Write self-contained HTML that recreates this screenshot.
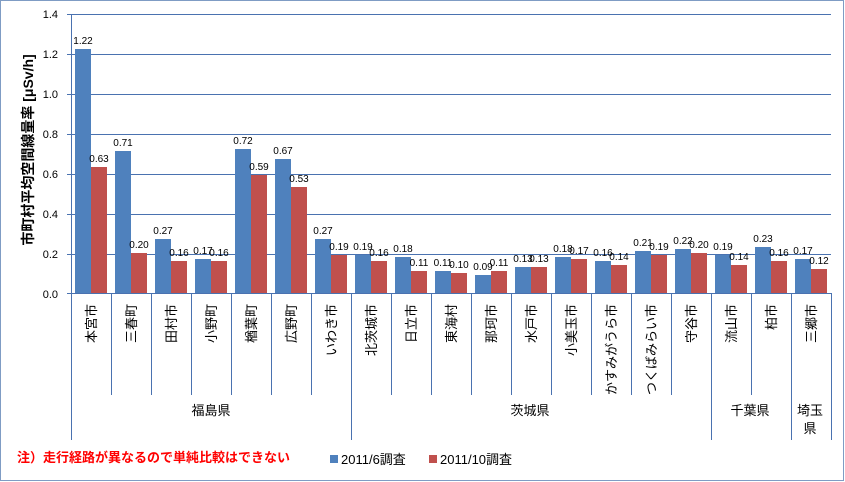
<!DOCTYPE html>
<html><head><meta charset="utf-8"><style>
body{margin:0;background:#fff}
svg{display:block;font-family:"Liberation Sans","Noto Sans CJK JP",sans-serif}
</style></head><body>
<svg width="845" height="482" viewBox="0 0 845 482" xmlns="http://www.w3.org/2000/svg">
<rect x="0.5" y="0.5" width="843" height="480" fill="#fff" stroke="#7f9cc4" stroke-width="1"/>
<g stroke="#4a72b0" stroke-width="1">
<line x1="67" y1="14.5" x2="831" y2="14.5"/>
<line x1="67" y1="54.5" x2="831" y2="54.5"/>
<line x1="67" y1="94.5" x2="831" y2="94.5"/>
<line x1="67" y1="134.5" x2="831" y2="134.5"/>
<line x1="67" y1="174.5" x2="831" y2="174.5"/>
<line x1="67" y1="214.5" x2="831" y2="214.5"/>
<line x1="67" y1="254.5" x2="831" y2="254.5"/>
</g>
<g font-size="11" fill="#000" text-anchor="end">
<text x="58" y="18">1.4</text><text x="58" y="58">1.2</text><text x="58" y="98">1.0</text>
<text x="58" y="138">0.8</text><text x="58" y="178">0.6</text><text x="58" y="218">0.4</text>
<text x="58" y="258">0.2</text><text x="58" y="298">0.0</text>
</g>
<text transform="translate(33,150) rotate(-90)" font-size="14" font-weight="bold" text-anchor="middle">市町村平均空間線量率 [μSv/h]</text>
<g id="bars"></g>
<line x1="71.5" y1="14" x2="71.5" y2="440" stroke="#4a72b0"/>
<line x1="67" y1="293.5" x2="831" y2="293.5" stroke="#4a72b0"/>
<g id="cats"></g>
<g font-size="13" text-anchor="middle">
<text x="211" y="415">福島県</text>
<text x="530" y="415">茨城県</text>
<text x="750" y="415">千葉県</text>
<text x="810" y="415">埼玉</text>
<text x="810" y="433">県</text>
</g>
<text x="17" y="462" font-size="13" fill="#ff0000" font-weight="bold">注）走行経路が異なるので単純比較はできない</text>
<rect x="330" y="455" width="8" height="8" fill="#4f81bd"/>
<text x="341" y="464" font-size="13">2011/6調査</text>
<rect x="429" y="455" width="8" height="8" fill="#c0504d"/>
<text x="440" y="464" font-size="13">2011/10調査</text>
</svg>
<script>
var b=[1.22,0.71,0.27,0.17,0.72,0.67,0.27,0.19,0.18,0.11,0.09,0.13,0.18,0.16,0.21,0.22,0.19,0.23,0.17];
var r=[0.63,0.20,0.16,0.16,0.59,0.53,0.19,0.16,0.11,0.10,0.11,0.13,0.17,0.14,0.19,0.20,0.14,0.16,0.12];
var n=["本宮市","三春町","田村市","小野町","楢葉町","広野町","いわき市","北茨城市","日立市","東海村","那珂市","水戸市","小美玉市","かすみがうら市","つくばみらい市","守谷市","流山市","柏市","三郷市"];
var ns="http://www.w3.org/2000/svg",g=document.getElementById("bars"),c=document.getElementById("cats");
function el(t,a,p,txt){var e=document.createElementNS(ns,t);for(var k in a)e.setAttribute(k,a[k]);if(txt)e.textContent=txt;p.appendChild(e);return e;}
var big=[0,7,16,18,19];
for(var i=0;i<19;i++){var x=71+i*40;
var hb=b[i]*200,hr=r[i]*200;
el("rect",{x:x+4,y:293-hb,width:16,height:hb,fill:"#4f81bd"},g);
el("rect",{x:x+20,y:293-hr,width:16,height:hr,fill:"#c0504d"},g);
el("text",{x:x+12,y:293-hb-5,"font-size":"10","text-anchor":"middle"},g,b[i].toFixed(2));
el("text",{x:x+28,y:293-hr-5,"font-size":"10","text-anchor":"middle"},g,r[i].toFixed(2));
el("text",{transform:"translate("+(x+25)+",304) rotate(-90)","font-size":"13","text-anchor":"end"},c,n[i]);
}
for(var j=1;j<=19;j++){var xx=71.5+j*40;var full=big.indexOf(j)>=0;
el("line",{x1:xx,y1:293,x2:xx,y2:full?440:395,stroke:"#4a72b0"},c);}
</script>
</body></html>
